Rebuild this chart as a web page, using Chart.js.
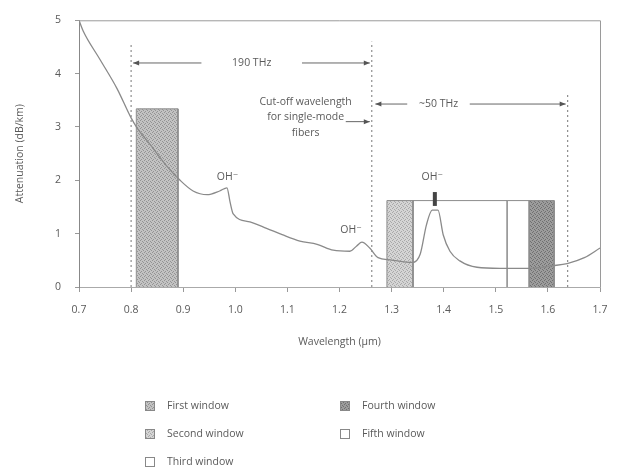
<!DOCTYPE html>
<html>
<head>
<meta charset="utf-8">
<script src="https://cdn.jsdelivr.net/npm/chart.js@4"></script>
<style>
  body { margin: 0; background: #fff; }
  #wrap { width: 620px; height: 472px; }
</style>
</head>
<body>
<div id="wrap"><canvas id="lossChart" width="620" height="472"></canvas></div>
<script>
// Attenuation curve (wavelength in um, dB/km)
const wavelength = [0.70, 0.708, 0.74, 0.773, 0.80, 0.811, 0.836, 0.869, 0.894, 0.919, 0.946, 0.97, 0.984, 0.99, 0.996,
    1.028, 1.06, 1.09, 1.124, 1.157, 1.188, 1.22, 1.233, 1.243, 1.258, 1.274, 1.297, 1.34, 1.355, 1.367, 1.378,
    1.389, 1.399, 1.412, 1.431, 1.464, 1.508, 1.565, 1.61, 1.637, 1.67, 1.70];
const attenuation = [5.0, 4.8, 4.27, 3.72, 3.17, 2.99, 2.68, 2.26, 2.0, 1.8, 1.73, 1.8, 1.86, 1.59, 1.37,
    1.22, 1.1, 0.98, 0.86, 0.8, 0.69, 0.67, 0.77, 0.84, 0.73, 0.55, 0.51, 0.46, 0.62, 1.17, 1.44,
    1.44, 0.98, 0.67, 0.49, 0.37, 0.35, 0.35, 0.40, 0.44, 0.55, 0.73];

// Transmission windows
const windowNames = ['First window', 'Second window', 'Third window', 'Fourth window', 'Fifth window'];
const windowStart = [0.81, 1.291, 1.522, 1.564, 1.341];
const windowEnd = [0.89, 1.341, 1.564, 1.612, 1.522];
const windowTop = [3.34, 1.62, 1.62, 1.62, 1.62];

// Dashed reference lines
const dashX = [0.80, 1.262, 1.638];
const dashTop = [4.55, 4.6, 3.6];

const xTicks = [0.7, 0.8, 0.9, 1.0, 1.1, 1.2, 1.3, 1.4, 1.5, 1.6, 1.7];

// grainy fill so the windows look like the stippled original
function stipple(base, dot) {
    const c = document.createElement('canvas');
    c.width = 4; c.height = 4;
    const g = c.getContext('2d');
    g.fillStyle = base;
    g.fillRect(0, 0, 4, 4);
    g.fillStyle = dot;
    [[0, 0], [2, 1], [1, 3], [3, 2]].forEach(p => g.fillRect(p[0], p[1], 1, 1));
    return g.createPattern(c, 'repeat');
}

const fills = [
    stipple('#c2c2c2', '#939393'),
    stipple('#d4d4d4', '#a8a8a8'),
    '#ffffff',
    stipple('#9c9c9c', '#707070'),
    '#ffffff'
];

const datasets = [];

// windows first so the curve sits on top
windowNames.forEach((name, i) => {
    datasets.push({
        label: name,
        data: [
            { x: windowStart[i], y: 0 },
            { x: windowStart[i], y: windowTop[i] },
            { x: windowEnd[i], y: windowTop[i] },
            { x: windowEnd[i], y: 0 }
        ],
        borderColor: '#8c8c8c',
        borderWidth: 1,
        backgroundColor: fills[i],
        fill: 'origin',
        pointRadius: 0,
        tension: 0,
        order: 3
    });
});

dashX.forEach((x, i) => {
    datasets.push({
        label: 'dash' + i,
        data: [{ x: x, y: 0 }, { x: x, y: dashTop[i] }],
        borderColor: '#777',
        borderWidth: 1,
        borderDash: [2, 3],
        pointRadius: 0,
        fill: false,
        order: 2
    });
});

datasets.push({
    label: 'Attenuation',
    data: wavelength.map((w, i) => ({ x: w, y: attenuation[i] })),
    borderColor: '#8a8a8a',
    borderWidth: 1.3,
    pointRadius: 0,
    fill: false,
    tension: 0.35,
    cubicInterpolationMode: 'monotone',
    order: 1
});

const textColor = '#5a5a5a';
const fontFamily = '"Open Sans", "DejaVu Sans", sans-serif';
const textFont = '10.5px ' + fontFamily;

// notes drawn on the plot, positioned in data units
const arrowNotes = [
    { from: 0.80, to: 1.262, y: 4.2, gapFrom: 0.935, gapTo: 1.128, text: '190 THz' },
    { from: 1.265, to: 1.638, y: 3.43, gapFrom: 1.33, gapTo: 1.45, text: '~50 THz' }
];
const labelNotes = [
    { x: 1.135, y: 3.47, text: 'Cut-off wavelength' },
    { x: 1.135, y: 3.18, text: 'for single-mode' },
    { x: 1.135, y: 2.88, text: 'fibers' },
    { x: 0.985, y: 2.07, text: 'OH\u207B' },
    { x: 1.222, y: 1.07, text: 'OH\u207B' },
    { x: 1.378, y: 2.07, text: 'OH\u207B' }
];

function arrowHead(ctx, x, y, dir) {
    ctx.beginPath();
    ctx.moveTo(x, y);
    ctx.lineTo(x - dir * 6, y - 2.5);
    ctx.lineTo(x - dir * 6, y + 2.5);
    ctx.closePath();
    ctx.fill();
}

const notesPlugin = {
    id: 'notes',
    afterDatasetsDraw(chart) {
        const ctx = chart.ctx;
        const xs = chart.scales.x, ys = chart.scales.y;
        const area = chart.chartArea;
        ctx.save();

        // top and right frame
        ctx.strokeStyle = '#9a9a9a';
        ctx.lineWidth = 1;
        ctx.beginPath();
        ctx.moveTo(area.left, area.top + 0.5);
        ctx.lineTo(area.right + 0.5, area.top + 0.5);
        ctx.lineTo(area.right + 0.5, area.bottom);
        ctx.stroke();

        ctx.strokeStyle = '#666';
        ctx.fillStyle = '#555';
        arrowNotes.forEach(a => {
            const y = ys.getPixelForValue(a.y);
            const x1 = xs.getPixelForValue(a.from) + 2;
            const x2 = xs.getPixelForValue(a.to) - 2;
            const g1 = xs.getPixelForValue(a.gapFrom);
            const g2 = xs.getPixelForValue(a.gapTo);
            ctx.beginPath();
            ctx.moveTo(x1, y); ctx.lineTo(g1, y);
            ctx.moveTo(g2, y); ctx.lineTo(x2, y);
            ctx.stroke();
            arrowHead(ctx, x1, y, -1);
            arrowHead(ctx, x2, y, 1);
            ctx.fillStyle = textColor;
            ctx.font = textFont;
            ctx.textAlign = 'center';
            ctx.textBaseline = 'middle';
            ctx.fillText(a.text, (g1 + g2) / 2, y);
            ctx.fillStyle = '#555';
        });

        // cut-off pointer
        const cy = ys.getPixelForValue(3.1);
        ctx.beginPath();
        ctx.moveTo(xs.getPixelForValue(1.212), cy);
        ctx.lineTo(xs.getPixelForValue(1.262) - 2, cy);
        ctx.stroke();
        arrowHead(ctx, xs.getPixelForValue(1.262) - 2, cy, 1);

        // marker for the 1.38 um peak
        ctx.fillStyle = '#444';
        const px = xs.getPixelForValue(1.383);
        ctx.fillRect(px - 2, ys.getPixelForValue(1.78), 4, ys.getPixelForValue(1.52) - ys.getPixelForValue(1.78));

        ctx.fillStyle = textColor;
        ctx.font = textFont;
        ctx.textAlign = 'center';
        ctx.textBaseline = 'middle';
        labelNotes.forEach(n => {
            ctx.fillText(n.text, xs.getPixelForValue(n.x), ys.getPixelForValue(n.y));
        });

        // legend, two columns
        const legendCols = [150, 345];
        const legendRows = [406, 434, 462];
        windowNames.forEach((name, i) => {
            const col = i < 3 ? 0 : 1;
            const row = i < 3 ? i : i - 3;
            const lx = legendCols[col], ly = legendRows[row];
            ctx.fillStyle = fills[i];
            ctx.fillRect(lx - 5, ly - 5, 10, 10);
            ctx.strokeStyle = '#888';
            ctx.strokeRect(lx - 5 + 0.5, ly - 5 + 0.5, 9, 9);
            ctx.fillStyle = textColor;
            ctx.textAlign = 'left';
            ctx.fillText(name, lx + 17, ly);
        });

        ctx.restore();
    }
};

const ctx = document.getElementById('lossChart').getContext('2d');
const chart = new Chart(ctx, {
    type: 'line',
    data: { datasets: datasets },
    options: {
        responsive: false,
        animation: false,
        layout: { padding: { top: 13, right: 20, bottom: 120, left: 0 } },
        plugins: {
            legend: { display: false },
            tooltip: { enabled: false }
        },
        scales: {
            x: {
                type: 'linear',
                min: 0.7,
                max: 1.7,
                afterBuildTicks: scale => { scale.ticks = xTicks.map(v => ({ value: v })); },
                afterFit: scale => { scale.height = 65; },
                ticks: {
                    color: textColor,
                    font: { size: 10.5, family: fontFamily },
                    padding: 12,
                    maxRotation: 0,
                    callback: v => v.toFixed(1)
                },
                grid: { drawOnChartArea: false, tickLength: 5, color: '#999' },
                border: { color: '#aaa', dash: [2, 2] },
                title: {
                    display: true,
                    text: 'Wavelength (\u03bcm)',
                    color: textColor,
                    font: { size: 10.5, family: fontFamily },
                    padding: { top: 14 }
                }
            },
            y: {
                min: 0,
                max: 5,
                afterFit: scale => { scale.width = 79; },
                ticks: {
                    stepSize: 1,
                    color: textColor,
                    font: { size: 10.5, family: fontFamily },
                    padding: 14
                },
                grid: { drawOnChartArea: false, tickLength: 4, color: '#999' },
                border: { color: '#888' },
                title: {
                    display: true,
                    text: 'Attenuation (dB/km)',
                    color: textColor,
                    font: { size: 10.5, family: fontFamily },
                    padding: { top: 14, bottom: 0 }
                }
            }
        }
    },
    plugins: [notesPlugin]
});
</script>
</body>
</html>
